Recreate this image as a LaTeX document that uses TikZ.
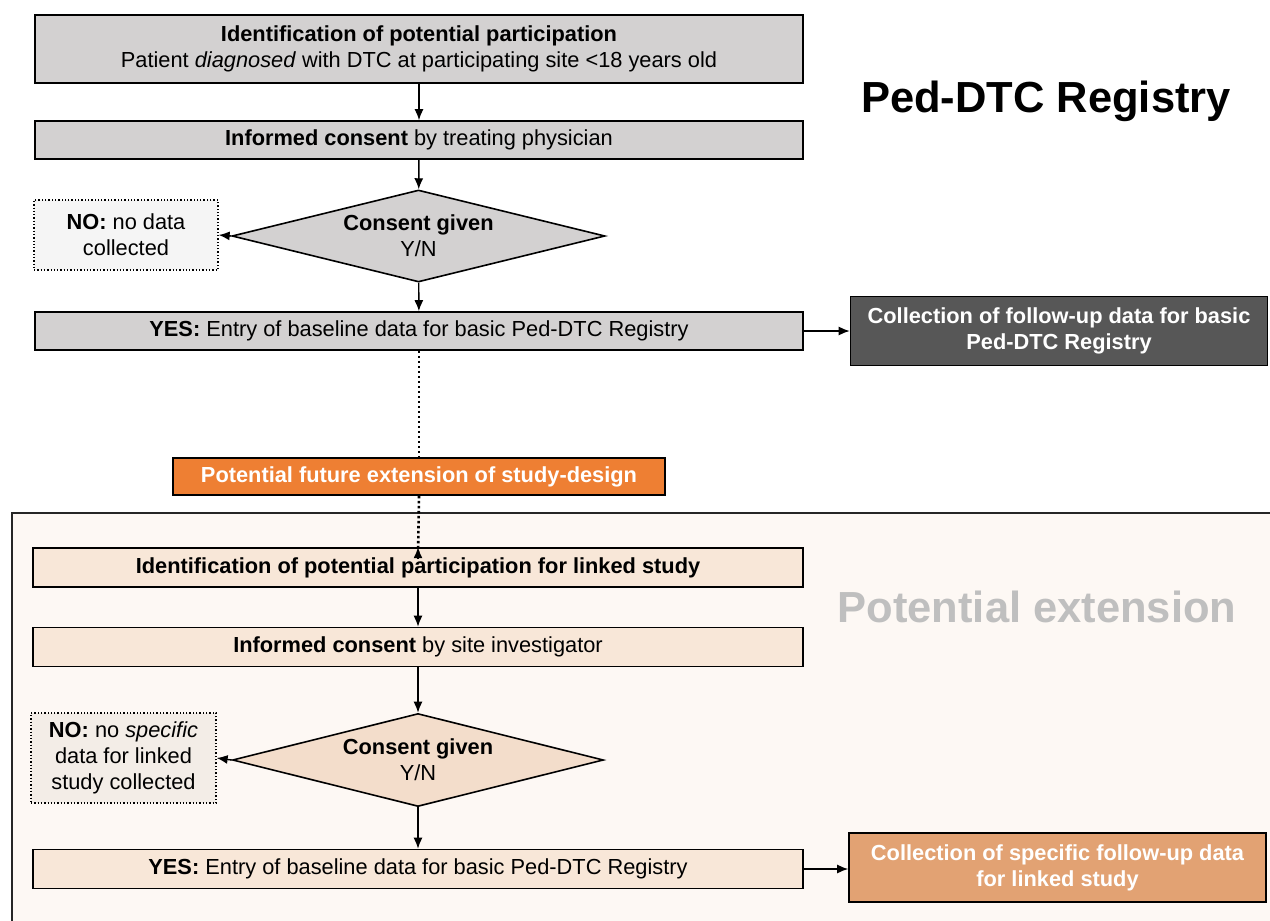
\documentclass[tikz,border=0pt]{standalone}
\usepackage{fontspec}
\setmainfont{Liberation Sans}
\usetikzlibrary{shapes.geometric,arrows.meta}
\definecolor{boxgray}{HTML}{D3D1D1}
\definecolor{nogray}{HTML}{F5F5F5}
\definecolor{darkbox}{HTML}{575757}
\definecolor{orangebox}{HTML}{EE7F33}
\definecolor{extbg}{HTML}{FDF8F4}
\definecolor{extfill}{HTML}{F8E7D8}
\definecolor{extdia}{HTML}{F3DDCB}
\definecolor{extno}{HTML}{F3EDE7}
\definecolor{extorange}{HTML}{E2A273}
\definecolor{titlegray}{HTML}{BFBFBF}
\newcommand{\fs}{\fontsize{21.8}{26}\selectfont}
\begin{document}
\begin{tikzpicture}[x=1pt,y=-1pt,
  flow/.style={draw=black, line width=1.6pt, fill=boxgray, inner sep=0pt,
    minimum width=768pt, minimum height=38pt, font=\fs, align=center},
  extflow/.style={flow, fill=extfill, minimum width=770pt, minimum height=39pt},
  decision/.style={diamond, draw=black, line width=1.6pt, fill=boxgray, inner sep=0pt,
    minimum width=373pt, minimum height=92pt, aspect=4, font=\fs, align=center},
  nobox/.style={draw=black, line width=1.3pt, dotted, fill=nogray, inner sep=0pt,
    minimum width=184pt, minimum height=70pt, font=\fs, align=center},
  sidebox/.style={draw=black, line width=1.6pt, inner sep=0pt,
    minimum width=417pt, minimum height=69pt, text=white,
    font=\fs\bfseries, align=center},
  arr/.style={-{Latex[length=11pt,width=9pt]}, line width=1.4pt},
  dots/.style={line width=2.6pt, dash pattern=on 2.6pt off 2.4pt},
]
\useasboundingbox (0,0) rectangle (1270,921);
\fill[white] (0,0) rectangle (1270,921);
% extension background
\fill[extbg] (12,513) rectangle (1270,921);
\draw[line width=1.3pt, black!85] (1270,513) -- (12,513) -- (12,921);

% upper part
\node[flow, minimum height=68pt] (b1) at (419,49)
  {\textbf{Identification of potential participation}\\Patient \textit{diagnosed} with DTC at participating site <18 years old};
\node[flow] (b2) at (419,140) {\textbf{Informed consent} by treating physician};
\node[decision] (d1) at (418.5,236) {\textbf{Consent given}\\Y/N};
\node[nobox] (no1) at (126,235) {\textbf{NO:} no data\\collected};
\node[flow] (b3) at (419,331) {\textbf{YES:} Entry of baseline data for basic Ped-DTC Registry};
\node[sidebox, fill=darkbox, minimum width=417pt] (dark) at (1059,331)
  {Collection of follow-up data for basic\\Ped-DTC Registry};
\node[draw=black, line width=1.6pt, fill=orangebox, inner sep=0pt, minimum width=492pt,
  minimum height=37pt, text=white, font=\fs\bfseries] (orange) at (419,476.5)
  {Potential future extension of study-design};

\node[font=\fontsize{43.5}{52}\selectfont\bfseries] (title1) at (1046,101) {Ped-DTC Registry};
\node[font=\fontsize{43.5}{52}\selectfont\bfseries, text=titlegray] (title2) at (1037,607) {Potential extension};

% extension part
\node[extflow] (e1) at (418,567.5) {\textbf{Identification of potential participation for linked study}};
\node[extflow] (e2) at (418,647) {\textbf{Informed consent} by site investigator};
\node[decision, fill=extdia, minimum width=371pt, minimum height=93pt] (d2) at (418,760) {\textbf{Consent given}\\Y/N};
\node[nobox, fill=extno, minimum width=185pt, minimum height=90pt] (no2) at (123.5,758)
  {\textbf{NO:} no \textit{specific}\\data for linked\\study collected};
\node[extflow] (e3) at (418,869) {\textbf{YES:} Entry of baseline data for basic Ped-DTC Registry};
\node[sidebox, fill=extorange] (ext) at (1057.5,867.5)
  {Collection of specific follow-up data\\for linked study};

% connectors
\draw[arr] (b1) -- (b2);
\draw[arr] (b2) -- (d1);
\draw[arr] (d1.west) -- (no1.east);
\draw[arr] (d1) -- (b3);
\draw[arr] (b3.east) -- (dark.west);
\draw[dots] (b3.south) -- (orange.north);
\draw[dots] (orange.south) -- ([yshift=-11pt]e1.north);
\draw[arr] ([yshift=-12pt]e1.north) -- (e1.north);
\draw[arr] (e1) -- (e2);
\draw[arr] (e2) -- (d2);
\draw[arr] (d2.west) -- (no2.east);
\draw[arr] (d2) -- (e3);
\draw[arr] (e3.east) -- (ext.west |- e3.east);
\end{tikzpicture}
\end{document}
